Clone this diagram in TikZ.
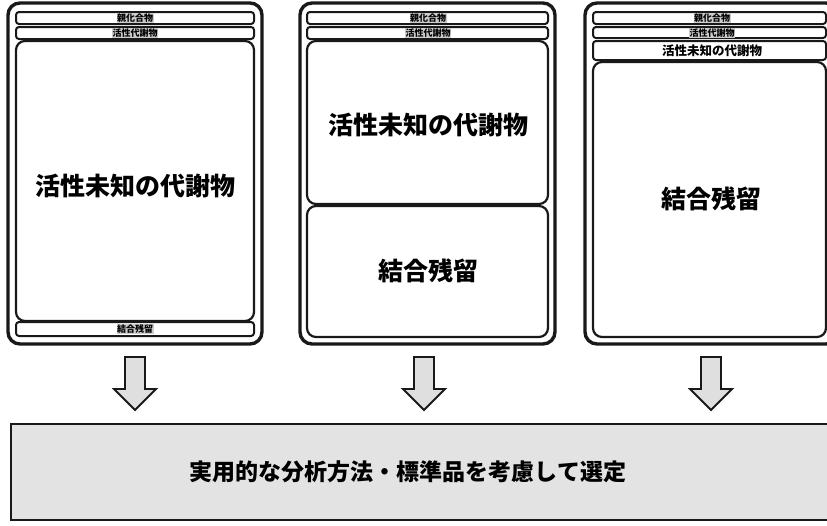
\documentclass[tikz,border=0pt]{standalone}
\usepackage{fontspec}
\usetikzlibrary{calc}
\newfontfamily\jp{Noto Sans CJK JP}
\begin{document}
\begin{tikzpicture}[x=1pt,y=-1pt,
  outerbox/.style={draw=black!90,line width=3.4pt,rounded corners=12pt},
  barbox/.style={draw=black!90,line width=2pt,rounded corners=3pt,fill=white},
  mainbox/.style={draw=black!90,line width=2.2pt,rounded corners=9pt,fill=white},
  smalltxt/.style={font=\jp\bfseries\fontsize{9}{9}\selectfont,inner sep=0.5pt,fill=gray!40},
  bigtxt/.style={font=\jp\bfseries\fontsize{25}{25}\selectfont},
  midtxt/.style={font=\jp\bfseries\fontsize{12.5}{12.5}\selectfont},
  blockarrow/.style={draw=black!90,line width=1.8pt,fill=gray!25,line join=miter},
  bottombox/.style={draw=black!90,line width=2.2pt,fill=gray!22}
]
\useasboundingbox (0,0) rectangle (827,525);
\clip (0,0) rectangle (827,525);

% Panel 1
\draw[outerbox] (8,3) rectangle (262,344);
\draw[barbox] (16,12) rectangle (254,24);
\draw[barbox] (16,27) rectangle (254,39);
\draw[mainbox] (16,41) rectangle (254,321);
\draw[barbox] (16,322) rectangle (254,336);
\node[smalltxt] (p1a) at (135,18) {親化合物};
\node[smalltxt] (p1b) at (135,33) {活性代謝物};
\node[bigtxt] (p1c) at (135,186) {活性未知の代謝物};
\node[smalltxt] (p1d) at (135,329) {結合残留};

% Panel 2
\draw[outerbox] (300,3) rectangle (555,344);
\draw[barbox] (307,12) rectangle (548,24);
\draw[barbox] (307,27) rectangle (548,39);
\draw[mainbox] (307,41) rectangle (548,204);
\draw[mainbox] (307,206) rectangle (548,337);
\node[smalltxt] (p2a) at (428,18) {親化合物};
\node[smalltxt] (p2b) at (428,33) {活性代謝物};
\node[bigtxt] (p2c) at (428,125) {活性未知の代謝物};
\node[bigtxt] (p2d) at (428,271) {結合残留};

% Panel 3
\draw[outerbox] (585,3) rectangle (838,344);
\draw[barbox] (593,12) rectangle (826,24);
\draw[barbox] (593,27) rectangle (826,38);
\draw[barbox] (593,41) rectangle (826,60);
\draw[mainbox] (593,62) rectangle (826,337);
\node[smalltxt] (p3a) at (712,18) {親化合物};
\node[smalltxt] (p3b) at (712,33) {活性代謝物};
\node[midtxt] (p3c) at (712,51) {活性未知の代謝物};
\node[bigtxt] (p3d) at (711,199) {結合残留};

% Arrows
\foreach \cx/\nm in {135/a1,424/a2,711/a3}{
  \coordinate (\nm) at (\cx,357);
  \draw[blockarrow] ($(\nm)+(-10,0)$) -- ++(20,0) -- ++(0,32) -- ++(11,0)
    -- ($(\nm)+(0,53)$) -- ($(\nm)+(-21,32)$) -- ++(11,0) -- cycle;
}

% Bottom box
\draw[bottombox] (11,424) rectangle (840,520);
\node[font=\jp\bfseries\fontsize{23}{23}\selectfont] (res) at (408,472) {実用的な分析方法・標準品を考慮して選定};
\end{tikzpicture}
\end{document}
